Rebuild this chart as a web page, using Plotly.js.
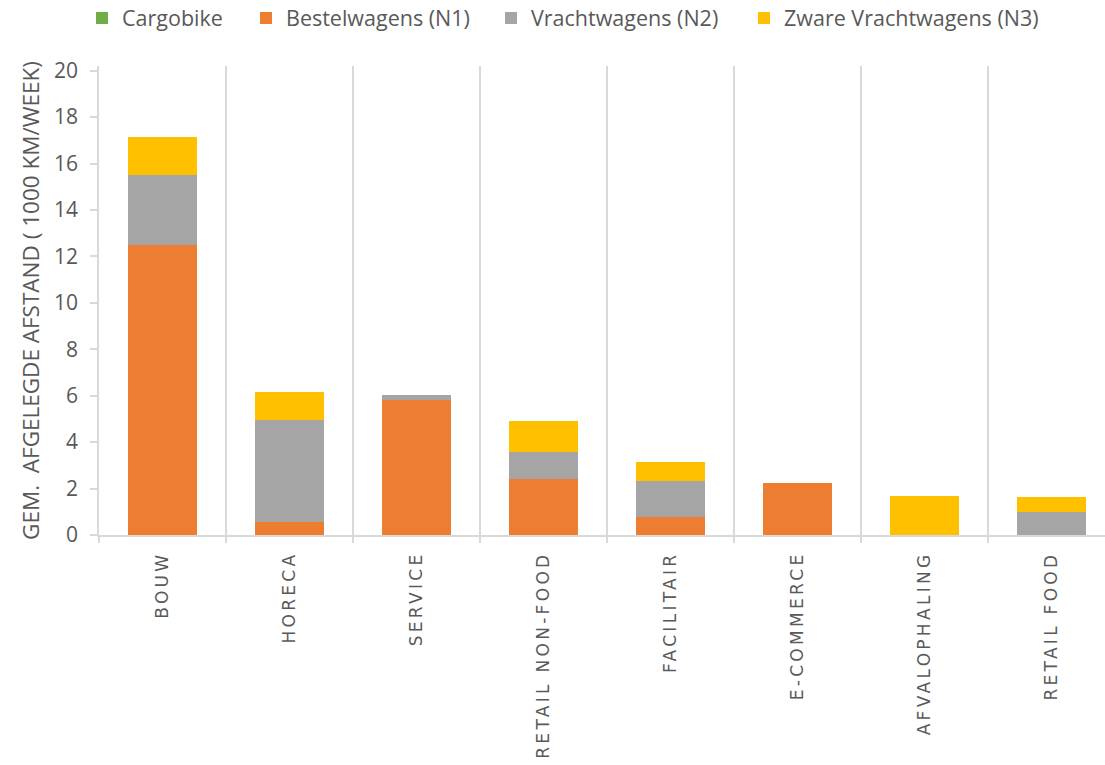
<!DOCTYPE html>
<html>
<head>
<meta charset="utf-8">
<script src="https://cdn.plot.ly/plotly-3.0.1.min.js"></script>
<style>
  html, body { margin: 0; padding: 0; background: #fff; }
  #chart { width: 1105px; height: 765px; }
  .xtick text { letter-spacing: 3.3px; }
</style>
</head>
<body>
<div id="chart"></div>
<script>
const categories = ["BOUW", "HORECA", "SERVICE", "RETAIL NON-FOOD", "FACILITAIR", "E-COMMERCE", "AFVALOPHALING", "RETAIL FOOD"];
const cargobike = [0, 0, 0, 0, 0, 0, 0, 0];
const bestelwagensN1 = [12.5, 0.55, 5.8, 2.4, 0.78, 2.24, 0, 0];
const vrachtwagensN2 = [3.0, 4.4, 0.22, 1.17, 1.56, 0, 0, 0.98];
const zwareVrachtwagensN3 = [1.65, 1.2, 0, 1.33, 0.79, 0, 1.69, 0.65];
const yTicks = [0, 2, 4, 6, 8, 10, 12, 14, 16, 18, 20];

const seriesNames = ["Cargobike", "Bestelwagens (N1)", "Vrachtwagens (N2)", "Zware Vrachtwagens (N3)"];
const seriesValues = [cargobike, bestelwagensN1, vrachtwagensN2, zwareVrachtwagensN3];
const seriesColors = ["#70AD47", "#ED7D31", "#A5A5A5", "#FFC000"];
const legendWidths = [119, 200, 208, 0];

const traces = seriesNames.map((name, i) => {
  const t = {
    type: "bar",
    name: name,
    x: categories,
    y: seriesValues[i],
    marker: { color: seriesColors[i], line: { width: 0 } },
    hoverinfo: "x+y+name"
  };
  if (legendWidths[i]) t.legendwidth = legendWidths[i];
  return t;
});

const textGrey = "#595959";
const lineGrey = "#D9D9D9";

const layout = {
  width: 1105,
  height: 765,
  barmode: "stack",
  bargap: 0.45,
  paper_bgcolor: "#ffffff",
  plot_bgcolor: "#ffffff",
  margin: { l: 99, r: 0, t: 66, b: 230, pad: 0 },
  font: { family: "Open Sans, sans-serif", color: textGrey },
  showlegend: true,
  legend: {
    orientation: "h",
    xref: "container",
    yref: "container",
    x: 82 / 1105,
    xanchor: "left",
    y: 1 - 18 / 765,
    yanchor: "middle",
    font: { family: "Open Sans, sans-serif", size: 21.5, color: textGrey },
    traceorder: "normal",
    itemclick: false
  },
  xaxis: {
    type: "category",
    range: [-0.5, 7.421],
    tickson: "boundaries",
    showgrid: true,
    gridcolor: lineGrey,
    gridwidth: 1.5,
    showline: true,
    linecolor: lineGrey,
    linewidth: 1.5,
    ticks: "outside",
    ticklen: 6,
    tickcolor: lineGrey,
    tickwidth: 1.5,
    tickangle: -90,
    ticklabelstandoff: 8,
    tickfont: { family: "DejaVu Sans, sans-serif", size: 17, color: textGrey },
    fixedrange: true
  },
  yaxis: {
    range: [0, 20.2],
    tickmode: "array",
    tickvals: yTicks,
    ticktext: yTicks.map(String),
    showgrid: false,
    zeroline: false,
    showline: true,
    linecolor: lineGrey,
    linewidth: 1.5,
    ticks: "outside",
    ticklen: 7,
    tickcolor: lineGrey,
    tickwidth: 1.5,
    ticklabelstandoff: 8,
    tickfont: { family: "Open Sans, sans-serif", size: 21, color: textGrey },
    title: {
      text: "GEM.\u00A0 AFGELEGDE AFSTAND ( 1000 KM/WEEK)",
      font: { family: "Open Sans, sans-serif", size: 22.5, color: textGrey },
      standoff: 8
    },
    fixedrange: true
  }
};

Plotly.newPlot("chart", traces, layout, { displayModeBar: false, responsive: false });
</script>
</body>
</html>
